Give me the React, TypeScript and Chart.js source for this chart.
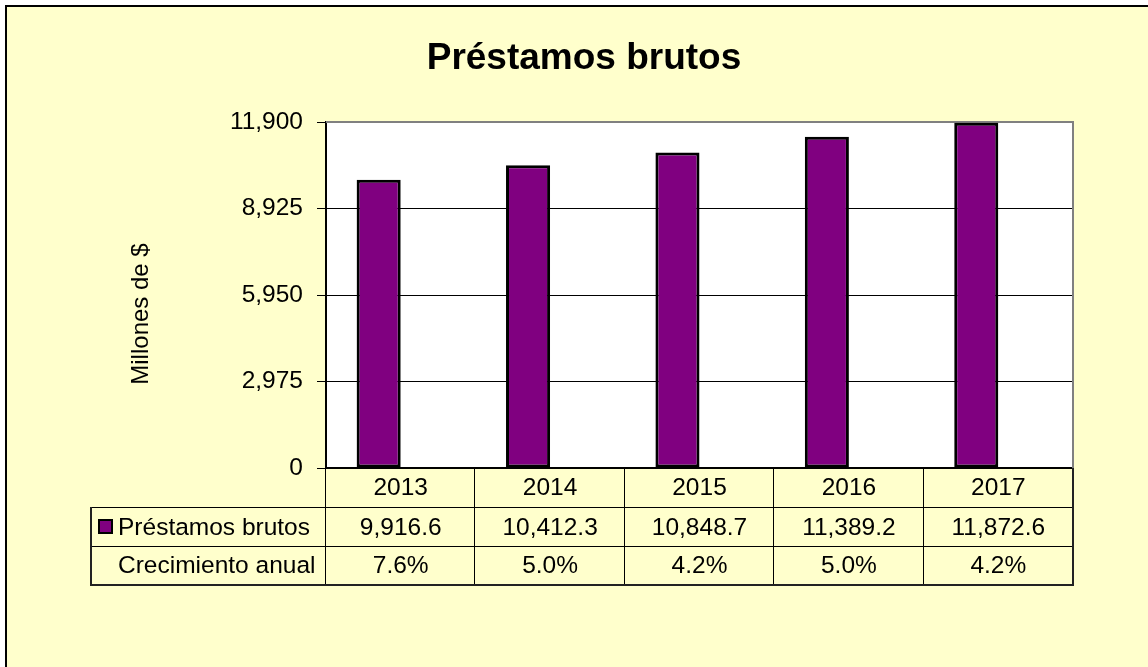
import React, { useEffect, useRef } from "react";
import { Chart, registerables } from "chart.js";

Chart.register(...registerables);

const years = ["2013", "2014", "2015", "2016", "2017"];
const prestamos = [9916.6, 10412.3, 10848.7, 11389.2, 11872.6];
const crecimiento = [0.076, 0.05, 0.042, 0.05, 0.042];
const yTicks = [0, 2975, 5950, 8925, 11900];
const seriesNames = ["Préstamos brutos", "Crecimiento anual"];
const chartTitle = "Préstamos brutos";
const yTitle = "Millones de $";

const FONT = "'Liberation Sans', Arial, sans-serif";
const PURPLE = "#800080";
const YELLOW = "#FFFFCC";

const fmtNum = (v: number) =>
  v.toLocaleString("en-US", { minimumFractionDigits: 1, maximumFractionDigits: 1 });
const fmtPct = (v: number) => (v * 100).toFixed(1) + "%";

const decor = {
  id: "decor",
  beforeDraw(chart: any) {
    const { ctx, chartArea: a, width, height } = chart;
    ctx.save();
    ctx.fillStyle = "#fff";
    ctx.fillRect(0, 0, width, height);
    ctx.fillStyle = YELLOW;
    ctx.fillRect(6, 6, width, height);
    ctx.strokeStyle = "#000";
    ctx.lineWidth = 2;
    ctx.strokeRect(6, 6, width + 40, height + 40);
    ctx.fillStyle = "#fff";
    ctx.fillRect(a.left, a.top, a.right - a.left, a.bottom - a.top);
    ctx.restore();
  },
  beforeDatasetsDraw(chart: any) {
    const { ctx, chartArea: a } = chart;
    ctx.save();
    ctx.strokeStyle = "#808080";
    ctx.lineWidth = 2;
    ctx.beginPath();
    ctx.moveTo(a.left, a.top);
    ctx.lineTo(a.right, a.top);
    ctx.lineTo(a.right, a.bottom);
    ctx.stroke();
    ctx.restore();
  },
  afterDraw(chart: any) {
    const { ctx, chartArea: a } = chart;
    const xs = chart.scales.x;
    ctx.save();
    // Title
    ctx.fillStyle = "#000";
    ctx.font = `bold 37px ${FONT}`;
    ctx.textAlign = "center";
    ctx.textBaseline = "alphabetic";
    ctx.fillText(chartTitle, 584, 69);

    // Y axis title
    ctx.save();
    ctx.translate(141, 314);
    ctx.rotate(-Math.PI / 2);
    ctx.font = `24px ${FONT}`;
    ctx.textAlign = "center";
    ctx.textBaseline = "middle";
    ctx.fillText(yTitle, 0, 0);
    ctx.restore();

    // Data table
    const n = years.length;
    const colW = (a.right - a.left) / n;
    const rowH = 39;
    const r0 = a.bottom;
    const r1 = r0 + rowH;
    const r2 = r1 + rowH;
    const r3 = r2 + rowH;
    const tableLeft = 91;

    ctx.strokeStyle = "#000";
    ctx.lineWidth = 1;
    ctx.beginPath();
    for (let i = 0; i <= n; i++) {
      const x = Math.round(a.left + i * colW) - 0.5;
      ctx.moveTo(x, r0);
      ctx.lineTo(x, r3);
    }
    [r1, r2].forEach((y) => {
      ctx.moveTo(tableLeft, y + 0.5);
      ctx.lineTo(a.right, y + 0.5);
    });
    ctx.stroke();
    ctx.lineWidth = 2;
    ctx.strokeStyle = "#222";
    ctx.beginPath();
    ctx.moveTo(tableLeft, r1);
    ctx.lineTo(tableLeft, r3);
    ctx.lineTo(a.right, r3);
    ctx.lineTo(a.right, r0);
    ctx.stroke();

    ctx.fillStyle = "#000";
    ctx.font = `24.5px ${FONT}`;
    ctx.textAlign = "center";
    ctx.textBaseline = "alphabetic";
    for (let i = 0; i < n; i++) {
      const cx = xs.getPixelForValue(i);
      ctx.fillText(years[i], cx, r0 + 27);
      ctx.fillText(fmtNum(prestamos[i]), cx, r1 + 28);
      ctx.fillText(fmtPct(crecimiento[i]), cx, r2 + 27);
    }
    ctx.textAlign = "left";
    ctx.fillText(seriesNames[0], 118, r1 + 28);
    ctx.fillText(seriesNames[1], 118, r2 + 27);

    // legend key
    ctx.fillStyle = PURPLE;
    ctx.fillRect(99, r1 + 13, 13, 13);
    ctx.strokeStyle = "#000";
    ctx.lineWidth = 2;
    ctx.strokeRect(99, r1 + 13, 13, 13);
    ctx.restore();
  },
};

export default function App() {
  const ref = useRef<HTMLCanvasElement | null>(null);
  useEffect(() => {
    if (!ref.current) return;
    const chart = new Chart(ref.current, {
      type: "bar",
      data: {
        labels: years,
        datasets: [
          {
            label: seriesNames[0],
            data: prestamos,
            backgroundColor: PURPLE,
            borderColor: "#000",
            borderWidth: 3,
            borderSkipped: false,
            categoryPercentage: 0.59,
            barPercentage: 1,
          },
          {
            label: seriesNames[1],
            data: crecimiento,
            backgroundColor: "rgba(0,0,0,0)",
            borderWidth: 0,
            categoryPercentage: 0.59,
            barPercentage: 1,
          },
        ],
      },
      options: {
        animation: false,
        responsive: false,
        devicePixelRatio: 1,
        layout: { padding: { left: 0, top: 122, right: 75, bottom: 199 } },
        plugins: {
          legend: { display: false },
          title: { display: false },
          tooltip: { enabled: false },
        },
        scales: {
          x: {
            grid: { display: false, drawTicks: false },
            ticks: { display: false },
            border: { display: true, color: "#000", width: 2 },
            afterFit: (s: any) => {
              s.height = 0;
            },
          },
          y: {
            min: 0,
            max: 11900,
            afterBuildTicks: (s: any) => {
              s.ticks = yTicks.map((v) => ({ value: v }));
            },
            ticks: {
              color: "#000",
              font: { family: FONT, size: 24.5 },
              padding: 14,
              callback: (v: any) => Number(v).toLocaleString("en-US"),
            },
            grid: {
              color: (c: any) => (c.tick && c.tick.value === 11900 ? "#808080" : "#000"),
              tickColor: "#000",
              tickLength: 9,
              lineWidth: 1,
            },
            border: { display: true, color: "#000", width: 2 },
            afterFit: (s: any) => {
              s.width = 326;
            },
          },
        },
      },
      plugins: [decor],
    });
    return () => chart.destroy();
  }, []);
  return (
    <div style={{ position: "absolute", left: 0, top: 0, width: 1148, height: 667 }}>
      <canvas ref={ref} width={1148} height={667} />
    </div>
  );
}
